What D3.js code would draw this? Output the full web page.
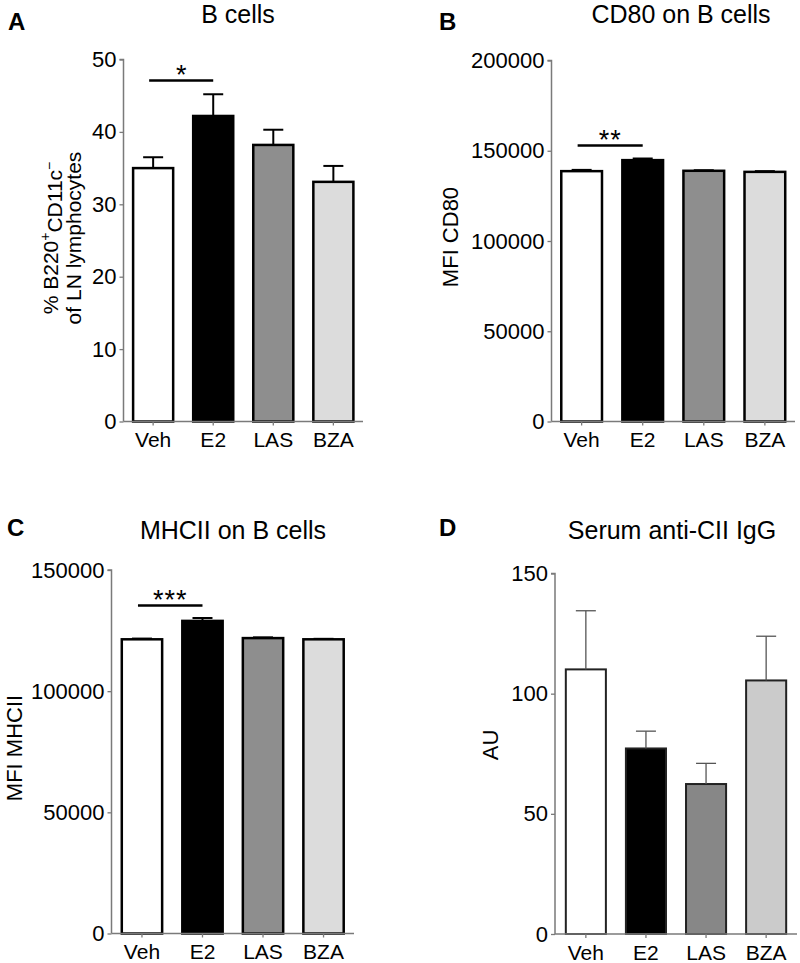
<!DOCTYPE html>
<html>
<head>
<meta charset="utf-8">
<script src="https://cdn.jsdelivr.net/npm/d3@7"></script>
<style>
  html, body { margin: 0; padding: 0; background: #fff; }
  svg { display: block; }
  text { font-family: "Liberation Sans", Arial, Helvetica, sans-serif; fill: #000; }
</style>
</head>
<body>
<svg id="chart" width="800" height="963"></svg>
<script>
// ---------- data ----------
const groups = ["Veh", "E2", "LAS", "BZA"];

const bCellsMean = [35.0, 42.2, 38.2, 33.1];
const bCellsErr  = [1.5, 3.0, 2.1, 2.2];
const bCellsTicks = [0, 10, 20, 30, 40, 50];

const cd80Mean = [138700, 144800, 138900, 138300];
const cd80Err  = [700, 900, 300, 400];
const cd80Ticks = [0, 50000, 100000, 150000, 200000];

const mhciiMean = [121400, 129000, 121900, 121400];
const mhciiErr  = [300, 1200, 300, 200];
const mhciiTicks = [0, 50000, 100000, 150000];

const iggMean = [110.1, 77.2, 62.4, 105.5];
const iggErr  = [24.4, 7.2, 8.6, 18.4];
const iggTicks = [0, 50, 100, 150];

const fillsABC = ["#ffffff", "#000000", "#8e8e8e", "#dcdcdc"];
const fillsD   = ["#ffffff", "#000000", "#878787", "#cbcbcb"];

// ---------- drawing ----------
const svg = d3.select("#chart");
const FONT = '"Liberation Sans", Arial, sans-serif';

function drawPanel(cfg) {
  const g = svg.append("g");
  const y = d3.scaleLinear().domain([0, cfg.max]).range([cfg.yBottom, cfg.yTop]);
  const x = d3.scaleBand().domain(groups).range([cfg.axisX, cfg.axisRight])
    .paddingInner(1/3).paddingOuter(cfg.padOuter);

  // bars
  g.selectAll("rect.bar").data(groups).enter().append("rect")
    .attr("x", d => x(d))
    .attr("width", x.bandwidth())
    .attr("y", (d, i) => y(cfg.mean[i]))
    .attr("height", (d, i) => cfg.yBottom - y(cfg.mean[i]))
    .attr("fill", (d, i) => cfg.fills[i])
    .attr("stroke", cfg.barStroke)
    .attr("stroke-width", cfg.barStrokeW);

  // error bars (upper only)
  const eb = g.selectAll("g.err").data(groups).enter().append("g")
    .attr("stroke", cfg.errColor).attr("stroke-width", cfg.errW).attr("fill", "none");
  eb.append("line")
    .attr("x1", d => x(d) + x.bandwidth() / 2)
    .attr("x2", d => x(d) + x.bandwidth() / 2)
    .attr("y1", (d, i) => y(cfg.mean[i]))
    .attr("y2", (d, i) => y(cfg.mean[i] + cfg.err[i]));
  eb.append("line")
    .attr("x1", d => x(d) + x.bandwidth() / 2 - 10)
    .attr("x2", d => x(d) + x.bandwidth() / 2 + 10)
    .attr("y1", (d, i) => y(cfg.mean[i] + cfg.err[i]))
    .attr("y2", (d, i) => y(cfg.mean[i] + cfg.err[i]));

  // y axis
  const yAxis = d3.axisLeft(y).tickValues(cfg.ticks).tickSize(4).tickPadding(3)
    .tickFormat(d3.format("d"));
  const ya = g.append("g").attr("transform", `translate(${cfg.axisX},0)`).call(yAxis);
  ya.attr("font-size", 22).attr("font-family", FONT);
  ya.select(".domain").attr("stroke", "#7a7a7a").attr("stroke-width", 1.5)
    .attr("d", `M-4,${cfg.yTop}H0V${cfg.yBottom}`);
  ya.selectAll(".tick line").attr("stroke", "#7a7a7a").attr("stroke-width", 1.3);
  ya.selectAll(".tick text").attr("fill", "#000");

  // x axis
  const xAxis = d3.axisBottom(x).tickSize(4).tickPadding(7);
  const xa = g.append("g").attr("transform", `translate(0,${cfg.yBottom})`).call(xAxis);
  xa.attr("font-size", 21).attr("font-family", FONT);
  xa.select(".domain").attr("stroke", "#7a7a7a").attr("stroke-width", 1.5)
    .attr("d", `M${cfg.axisX},0H${cfg.axisRight}`);
  xa.selectAll(".tick line").attr("stroke", "#7a7a7a").attr("stroke-width", 1.3);
  xa.selectAll(".tick text").attr("fill", "#000");

  // title
  g.append("text").attr("x", cfg.titleX).attr("y", cfg.titleY)
    .attr("text-anchor", "middle").attr("font-size", 25).text(cfg.title);

  // panel letter
  g.append("text").attr("x", cfg.letterX).attr("y", cfg.letterY)
    .attr("font-size", 24).attr("font-weight", "bold").text(cfg.letter);

  // y label
  const yl = g.append("text")
    .attr("transform", `translate(${cfg.ylabX},${cfg.ylabY}) rotate(-90)`)
    .attr("text-anchor", "middle").attr("font-size", 22);
  cfg.ylabel(yl);

  // significance
  if (cfg.sig) {
    const x1 = x(groups[0]) + x.bandwidth() / 2 - 4;
    const x2 = x(groups[1]) + x.bandwidth() / 2;
    g.append("line").attr("x1", x1).attr("x2", x2)
      .attr("y1", cfg.sigY).attr("y2", cfg.sigY)
      .attr("stroke", "#000").attr("stroke-width", 2.5);
    g.append("text").attr("x", (x1 + x2) / 2).attr("y", cfg.sigY + 3)
      .attr("text-anchor", "middle").attr("font-size", 27)
      .attr("letter-spacing", cfg.sig.length > 1 ? 1 : 0)
      .text(cfg.sig);
  }
}

drawPanel({
  mean: bCellsMean, err: bCellsErr, ticks: bCellsTicks, max: 50,
  axisX: 123.5, axisRight: 363, yTop: 59.5, yBottom: 421.5, padOuter: 0.16,
  fills: fillsABC, barStroke: "#000", barStrokeW: 2.5, errColor: "#000", errW: 2,
  title: "B cells", titleX: 238, titleY: 23, letter: "A", letterX: 8, letterY: 30,
  ylabX: 62, ylabY: 238,
  ylabel: t => {
    t.attr("font-size", 21);
    const l1 = t.append("tspan").attr("x", 0).attr("dy", "-0.2em");
    l1.append("tspan").text("% B220");
    l1.append("tspan").attr("font-size", 14).attr("dy", "-0.55em").text("+");
    l1.append("tspan").attr("dy", "0.55em").text("CD11c");
    l1.append("tspan").attr("font-size", 14).attr("dy", "-0.55em").text("\u2212");
    t.append("tspan").attr("x", 0).attr("dy", "1.3em").text("of LN lymphocytes");
  },
  sig: "*", sigY: 80.5
});

drawPanel({
  mean: cd80Mean, err: cd80Err, ticks: cd80Ticks, max: 200000,
  axisX: 551.5, axisRight: 795, yTop: 60.5, yBottom: 421.5, padOuter: 0.16,
  fills: fillsABC, barStroke: "#000", barStrokeW: 2.5, errColor: "#000", errW: 2,
  title: "CD80 on B cells", titleX: 681, titleY: 23, letter: "B", letterX: 439, letterY: 30,
  ylabX: 458, ylabY: 237,
  ylabel: t => t.text("MFI CD80"),
  sig: "**", sigY: 145.5
});

drawPanel({
  mean: mhciiMean, err: mhciiErr, ticks: mhciiTicks, max: 150000,
  axisX: 111.5, axisRight: 354, yTop: 570, yBottom: 933.5, padOuter: 0.17,
  fills: fillsABC, barStroke: "#000", barStrokeW: 2.5, errColor: "#000", errW: 2,
  title: "MHCII on B cells", titleX: 233, titleY: 539, letter: "C", letterX: 7, letterY: 536,
  ylabX: 22, ylabY: 748,
  ylabel: t => t.text("MFI MHCII"),
  sig: "***", sigY: 605.5
});

drawPanel({
  mean: iggMean, err: iggErr, ticks: iggTicks, max: 150,
  axisX: 555, axisRight: 797, yTop: 573.5, yBottom: 934, padOuter: 0.18,
  fills: fillsD, barStroke: "#222", barStrokeW: 2, errColor: "#555", errW: 1.3,
  title: "Serum anti-CII IgG", titleX: 672, titleY: 539, letter: "D", letterX: 439, letterY: 536,
  ylabX: 498, ylabY: 745,
  ylabel: t => t.text("AU"),
  sig: null
});
</script>
</body>
</html>
